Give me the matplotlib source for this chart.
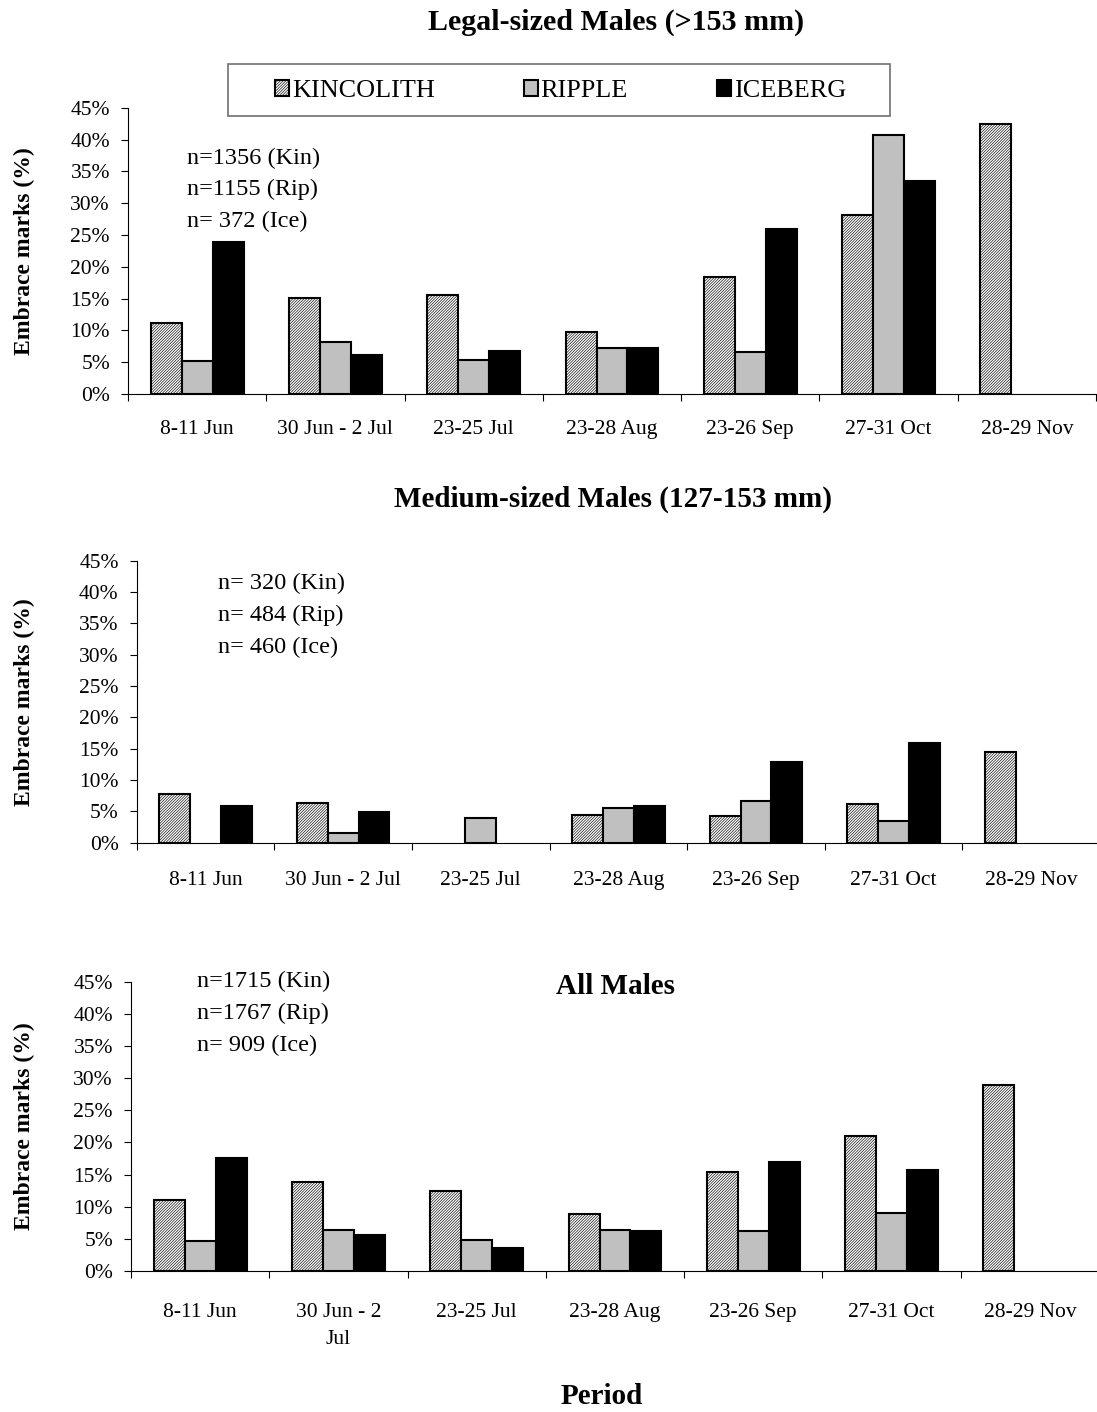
import numpy as np
import matplotlib
matplotlib.use("Agg")
import matplotlib.pyplot as plt
from matplotlib.patches import Rectangle
from matplotlib.ticker import FixedLocator, FuncFormatter

plt.rcParams['font.family'] = ['Liberation Serif', 'DejaVu Serif']
plt.rcParams['hatch.linewidth'] = 0.45
plt.rcParams['hatch.color'] = 'black'

nan = np.nan
periods = ["8-11 Jun", "30 Jun - 2 Jul", "23-25 Jul", "23-28 Aug", "23-26 Sep", "27-31 Oct", "28-29 Nov"]
periods_wrapped = ["8-11 Jun", "30 Jun - 2\nJul", "23-25 Jul", "23-28 Aug", "23-26 Sep", "27-31 Oct", "28-29 Nov"]
series_names = ["KINCOLITH", "RIPPLE", "ICEBERG"]

legal_kin = [11.2, 15.1, 15.5, 9.8, 18.4, 28.2, 42.4]
legal_rip = [5.2, 8.1, 5.3, 7.3, 6.6, 40.7, nan]
legal_ice = [23.9, 6.2, 6.8, 7.2, 26.0, 33.5, nan]

medium_kin = [7.7, 6.3, nan, 4.4, 4.2, 6.1, 14.4]
medium_rip = [nan, 1.5, 3.9, 5.5, 6.7, 3.5, nan]
medium_ice = [5.9, 4.95, nan, 5.8, 12.8, 15.9, nan]

all_kin = [11.0, 13.8, 12.4, 8.8, 15.4, 21.0, 28.9]
all_rip = [4.6, 6.3, 4.8, 6.4, 6.2, 9.0, nan]
all_ice = [17.5, 5.6, 3.6, 6.2, 16.9, 15.7, nan]

legal_n = ["n=1356 (Kin)", "n=1155 (Rip)", "n= 372 (Ice)"]
medium_n = ["n= 320 (Kin)", "n= 484 (Rip)", "n= 460 (Ice)"]
all_n = ["n=1715 (Kin)", "n=1767 (Rip)", "n= 909 (Ice)"]

yticks = [0, 5, 10, 15, 20, 25, 30, 35, 40, 45]

W, H = 1097, 1412
fig = plt.figure(figsize=(W / 100, H / 100), dpi=100)


def fx(px):
    return px / W


def fy(py):
    return 1 - py / H


def make_axes(left, right, top, bottom):
    return fig.add_axes([fx(left), fy(bottom), fx(right) - fx(left), fy(top) - fy(bottom)])


styles = [dict(facecolor='white', hatch='/' * 12),
          dict(facecolor='#c0c0c0'),
          dict(facecolor='black')]


def draw_panel(ax, kin, rip, ice, labels, xpad):
    x = np.arange(len(labels))
    w = 0.224
    bars = []
    for i, (vals, st) in enumerate(zip([kin, rip, ice], styles)):
        b = ax.bar(x + (i - 1) * w, np.array(vals, dtype=float), width=w,
                   edgecolor='black', linewidth=1.5, label=series_names[i], **st)
        bars.append(b)
    ax.set_xlim(-0.5, len(labels) - 0.5)
    ax.set_ylim(0, 45)
    ax.set_yticks(yticks)
    ax.yaxis.set_major_formatter(FuncFormatter(lambda v, p: f"{int(v)}%"))
    ax.set_xticks(x)
    ax.set_xticklabels(labels, fontsize=15.5)
    for lab in ax.get_xticklabels():
        lab.set_linespacing(1.55)
    ax.xaxis.set_minor_locator(FixedLocator(np.arange(-0.5, len(labels), 1.0)))
    ax.tick_params(axis='x', which='major', length=0, pad=xpad)
    ax.tick_params(axis='x', which='minor', length=5, width=0.8, direction='out')
    ax.tick_params(axis='y', length=5, width=0.8, pad=8, labelsize=15.5, direction='out')
    for s in ['top', 'right']:
        ax.spines[s].set_visible(False)
    for s in ['left', 'bottom']:
        ax.spines[s].set_linewidth(0.8)
    return bars


ax1 = make_axes(128, 1096, 107.7, 394)
bars = draw_panel(ax1, legal_kin, legal_rip, legal_ice, periods, 19)
ax2 = make_axes(136.7, 1100, 560.7, 842.7)
draw_panel(ax2, medium_kin, medium_rip, medium_ice, periods, 20.5)
ax3 = make_axes(131, 1099, 981.7, 1271)
draw_panel(ax3, all_kin, all_rip, all_ice, periods_wrapped, 23)

# y labels
for yc in [251, 702, 1126]:
    fig.text(fx(24), fy(yc), "Embrace marks (%)", rotation=90, fontsize=17,
             fontweight='bold', ha='center', va='center')

# titles
fig.text(fx(616), fy(22), "Legal-sized Males (>153 mm)", fontsize=21.6, fontweight='bold', ha='center', va='center')
fig.text(fx(613), fy(499), "Medium-sized Males (127-153 mm)", fontsize=21, fontweight='bold', ha='center', va='center')
fig.text(fx(615), fy(986), "All Males", fontsize=21, fontweight='bold', ha='center', va='center')
fig.text(fx(602), fy(1396), "Period", fontsize=21, fontweight='bold', ha='center', va='center')

# n annotations
for texts, xl, ys in [(legal_n, 187, [158, 189, 221]),
                      (medium_n, 218, [583, 615, 647]),
                      (all_n, 197, [981, 1013, 1045])]:
    for t, yy in zip(texts, ys):
        fig.text(fx(xl), fy(yy), t, fontsize=17.5, ha='left', va='center')

# legend
fig.patches.append(Rectangle((fx(228), fy(116)), fx(890) - fx(228), fy(64) - fy(116),
                             transform=fig.transFigure, facecolor='white',
                             edgecolor='#707070', linewidth=1.2, zorder=5))
leg = fig.legend(handles=bars, labels=series_names, loc='center left',
                 bbox_to_anchor=(fx(275), fy(91)), bbox_transform=fig.transFigure,
                 ncol=3, frameon=False, fontsize=18.8, handlelength=0.55, handleheight=0.55,
                 handletextpad=0.1, columnspacing=3.4, borderpad=0, borderaxespad=0)
leg.set_zorder(6)

fig.savefig("out.png", dpi=100)
